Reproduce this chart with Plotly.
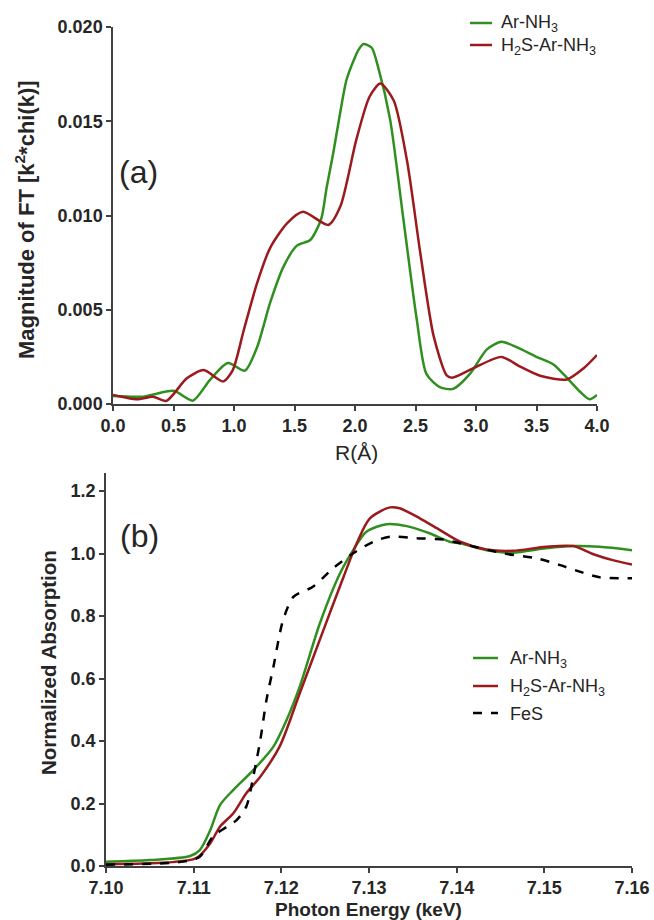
import plotly.graph_objects as go

# ---------- (a) FT magnitude ----------
r_ar = [0.0, 0.25, 0.5, 0.66, 0.80, 0.95, 1.09, 1.19, 1.30, 1.41, 1.52, 1.63, 1.72, 1.766, 1.82, 1.876,
        1.93, 2.0, 2.03, 2.07, 2.138, 2.19, 2.29, 2.40, 2.51, 2.59, 2.70, 2.81, 2.95, 3.09, 3.21, 3.34,
        3.50, 3.64, 3.75, 3.86, 3.94, 4.0]
ft_ar = [0.00042, 0.00039, 0.0007, 0.00018, 0.00127, 0.00217, 0.00177, 0.0030, 0.0054, 0.0073, 0.0084,
         0.0087, 0.0098, 0.0115, 0.0133, 0.0154, 0.0172, 0.0184, 0.0188, 0.0191, 0.0189, 0.0179, 0.0151,
         0.0098, 0.0045, 0.0016, 0.0009, 0.0008, 0.0016, 0.0029, 0.0033, 0.0030, 0.0025, 0.0021, 0.0014,
         0.00065, 0.00025, 0.00048]

r_h2s = [0.0, 0.2, 0.33, 0.44, 0.61, 0.75, 0.91, 0.99, 1.08, 1.19, 1.30, 1.44, 1.57, 1.78, 1.88, 2.01,
         2.12, 2.21, 2.32, 2.43, 2.54, 2.65, 2.76, 2.81, 2.98, 3.21, 3.36, 3.53, 3.75, 3.89, 4.0]
ft_h2s = [0.00048, 0.00025, 0.00039, 0.00016, 0.00136, 0.0018, 0.0012, 0.0018, 0.0039, 0.0064, 0.0083,
          0.0096, 0.0102, 0.0095, 0.0105, 0.0140, 0.0163, 0.0170, 0.0161, 0.0129, 0.0080, 0.0036, 0.0015,
          0.0014, 0.0019, 0.0025, 0.0020, 0.0015, 0.0013, 0.0019, 0.0026]

# ---------- (b) XANES ----------
e_ar = [7.100, 7.105, 7.1096, 7.1107, 7.1119, 7.113, 7.1145, 7.1168, 7.1191, 7.1206, 7.1221, 7.1244,
        7.1267, 7.1282, 7.1297, 7.132, 7.1343, 7.1369, 7.1392, 7.1404, 7.1434, 7.1464, 7.1502, 7.1533,
        7.1563, 7.160]
mu_ar = [0.014, 0.019, 0.032, 0.051, 0.115, 0.195, 0.243, 0.307, 0.382, 0.467, 0.574, 0.777, 0.937,
         1.011, 1.070, 1.094, 1.088, 1.065, 1.038, 1.033, 1.011, 1.003, 1.017, 1.024, 1.022, 1.011]

e_h2s = [7.100, 7.1069, 7.1103, 7.1119, 7.113, 7.1145, 7.116, 7.1176, 7.1198, 7.1221, 7.1248, 7.1271,
         7.1286, 7.1301, 7.1324, 7.1335, 7.1358, 7.1381, 7.1404, 7.1434, 7.1464, 7.1502, 7.1533, 7.1556,
         7.1578, 7.160]
mu_h2s = [0.006, 0.011, 0.025, 0.073, 0.126, 0.168, 0.233, 0.286, 0.382, 0.553, 0.755, 0.926, 1.033,
          1.113, 1.148, 1.145, 1.113, 1.075, 1.038, 1.013, 1.009, 1.022, 1.024, 0.998, 0.979, 0.965]

e_fes = [7.100, 7.1088, 7.1107, 7.1122, 7.1138, 7.1149, 7.116, 7.1168, 7.1176, 7.1183, 7.1191, 7.1202,
         7.1214, 7.1236, 7.1259, 7.1282, 7.1305, 7.1324, 7.1354, 7.1385, 7.1404, 7.1453, 7.1491, 7.1518,
         7.1544, 7.1563, 7.160]
mu_fes = [0.004, 0.014, 0.030, 0.094, 0.126, 0.147, 0.19, 0.286, 0.403, 0.531, 0.638, 0.787, 0.862,
          0.894, 0.953, 1.001, 1.038, 1.054, 1.049, 1.045, 1.033, 1.001, 0.985, 0.963, 0.939, 0.924, 0.921]

legend_a = ["Ar-NH<sub>3</sub>", "H<sub>2</sub>S-Ar-NH<sub>3</sub>"]
legend_b = ["Ar-NH<sub>3</sub>", "H<sub>2</sub>S-Ar-NH<sub>3</sub>", "FeS"]

GREEN = "#2f8f1f"
RED = "#9a1a1e"
AXC = "#404040"
TXT = "#262626"
FONT = "Liberation Sans, Arial, sans-serif"
LW = 2.5

fig = go.Figure()
fig.add_trace(go.Scatter(x=r_ar, y=ft_ar, mode="lines", name=legend_a[0],
                         line=dict(color=GREEN, width=LW, shape="spline", smoothing=0.7),
                         xaxis="x", yaxis="y"))
fig.add_trace(go.Scatter(x=r_h2s, y=ft_h2s, mode="lines", name=legend_a[1],
                         line=dict(color=RED, width=LW, shape="spline", smoothing=0.7),
                         xaxis="x", yaxis="y"))
fig.add_trace(go.Scatter(x=e_ar, y=mu_ar, mode="lines", name=legend_b[0],
                         line=dict(color=GREEN, width=LW, shape="spline", smoothing=0.8),
                         xaxis="x2", yaxis="y2"))
fig.add_trace(go.Scatter(x=e_h2s, y=mu_h2s, mode="lines", name=legend_b[1],
                         line=dict(color=RED, width=LW, shape="spline", smoothing=0.8),
                         xaxis="x2", yaxis="y2"))
fig.add_trace(go.Scatter(x=e_fes, y=mu_fes, mode="lines", name=legend_b[2],
                         line=dict(color="black", width=LW, dash="dash", shape="spline", smoothing=0.8),
                         xaxis="x2", yaxis="y2"))

W, H = 654, 920
def px_x(p):
    return p / W
def px_y(p):
    return 1 - p / H

axis_common = dict(showline=True, linecolor=AXC, linewidth=1.5, ticks="outside", ticklen=5,
                   tickwidth=1.5, tickcolor=AXC, showgrid=False, zeroline=False, automargin=False,
                   tickfont=dict(family=FONT, size=18, color=TXT, weight="bold"))

fig.update_layout(
    width=W, height=H, margin=dict(l=0, r=0, t=0, b=0, autoexpand=False),
    paper_bgcolor="white", plot_bgcolor="white",
    font=dict(family=FONT, color=TXT),
    showlegend=False,
    xaxis=dict(domain=[px_x(113), px_x(597)], range=[0, 4], dtick=0.5, tickformat=".1f",
               anchor="y", **axis_common),
    yaxis=dict(domain=[px_y(404), px_y(27)], range=[0, 0.02], dtick=0.005, tickformat=".3f",
               anchor="x", **axis_common),
    xaxis2=dict(domain=[px_x(106), px_x(632)], range=[7.10, 7.16], dtick=0.01, tickformat=".2f",
                anchor="y2", **axis_common),
    yaxis2=dict(domain=[px_y(866), px_y(473)], range=[0, 1.258], tickvals=[0, 0.2, 0.4, 0.6, 0.8, 1.0, 1.2],
                tickformat=".1f", anchor="x2", **axis_common),
)

annots = [
    dict(text="Magnitude of FT [k<sup>2</sup>*chi(k)]", x=px_x(25), y=px_y(220), textangle=-90,
         font=dict(size=22, weight="bold")),
    dict(text="R(Å)", x=px_x(356), y=px_y(452), font=dict(size=21)),
    dict(text="(a)", x=px_x(138), y=px_y(172), font=dict(size=32)),
    dict(text="Normalized Absorption", x=px_x(48), y=px_y(663), textangle=-90,
         font=dict(size=20.5, weight="bold")),
    dict(text="Photon Energy (keV)", x=px_x(369), y=px_y(909), font=dict(size=19, weight="bold")),
    dict(text="(b)", x=px_x(139), y=px_y(536), font=dict(size=32)),
]
for a in annots:
    a.update(xref="paper", yref="paper", showarrow=False, xanchor="center", yanchor="middle")
    a["font"].update(family=FONT, color=TXT)
    fig.add_annotation(**a)

# manual legends (sample line + label)
def legend_entry(x0, x1, xt, yc, color, dash, label):
    fig.add_shape(type="line", xref="paper", yref="paper", x0=px_x(x0), x1=px_x(x1),
                  y0=px_y(yc), y1=px_y(yc), line=dict(color=color, width=LW, dash=dash))
    fig.add_annotation(text=label, xref="paper", yref="paper", x=px_x(xt), y=px_y(yc + 1),
                       xanchor="left", yanchor="middle", showarrow=False,
                       font=dict(family=FONT, size=18, color=TXT))

legend_entry(470, 492, 499, 23, GREEN, "solid", legend_a[0])
legend_entry(470, 492, 499, 45, RED, "solid", legend_a[1])
legend_entry(473, 498, 508, 658, GREEN, "solid", legend_b[0])
legend_entry(473, 498, 508, 686, RED, "solid", legend_b[1])
legend_entry(473, 498, 508, 713, "black", "dash", legend_b[2])

fig.write_html("out.html", config={"displayModeBar": False},
               post_script="document.body.style.margin='0';document.body.style.padding='0';")
